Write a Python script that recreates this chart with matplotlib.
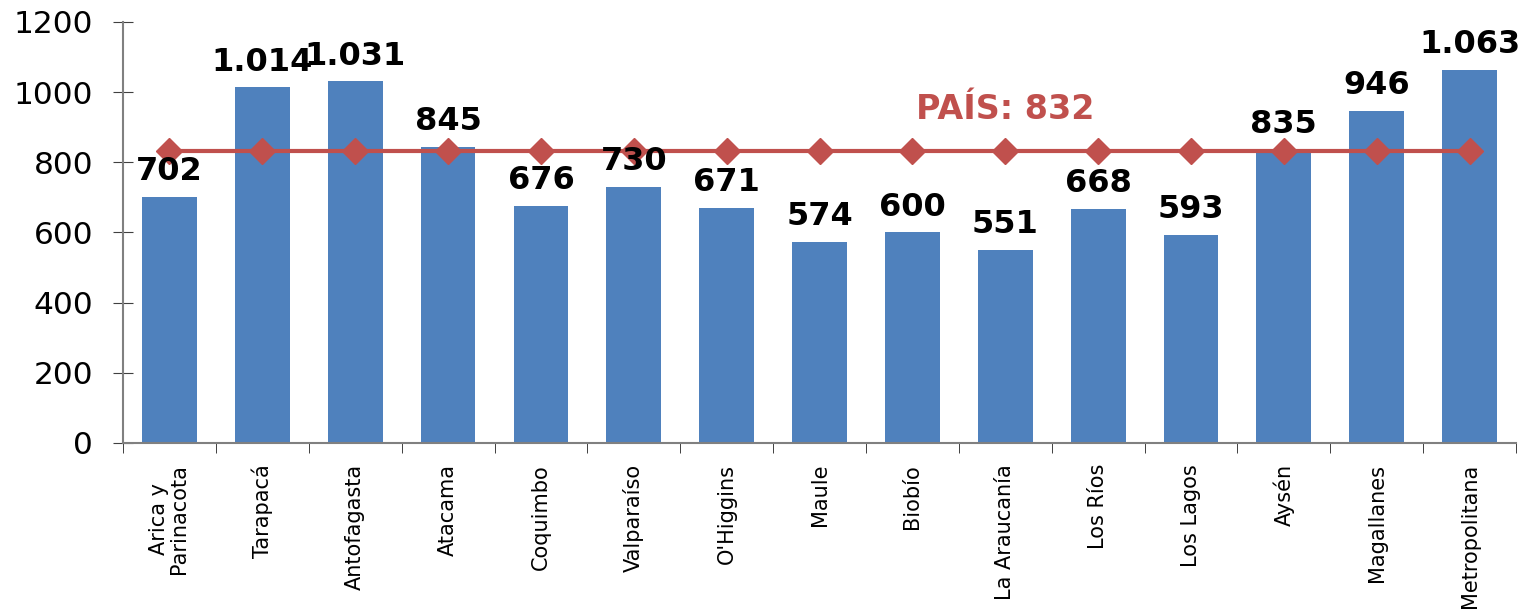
import matplotlib.pyplot as plt

# Regions and values
regions = ['Arica y\nParinacota', 'Tarapacá', 'Antofagasta', 'Atacama', 'Coquimbo',
           'Valparaíso', "O'Higgins", 'Maule', 'Biobío', 'La Araucanía',
           'Los Ríos', 'Los Lagos', 'Aysén', 'Magallanes', 'Metropolitana']
values = [702, 1014, 1031, 845, 676, 730, 671, 574, 600, 551, 668, 593, 835, 946, 1063]
pais = 832

fig = plt.figure(figsize=(15.23, 6.11), dpi=100)
ax = fig.add_axes([0.0808, 0.275, 0.9146, 0.689])

x = list(range(len(regions)))
ax.bar(x, values, width=0.59, color='#4F81BD', zorder=2)
ax.plot(x, [pais] * len(x), color='#C0504D', linewidth=3, marker='D',
        markersize=13, zorder=3)

# Value labels with dot as thousands separator
for xi, v in zip(x, values):
    label = f'{v:,}'.replace(',', '.')
    ax.annotate(label, (xi, v), xytext=(0, 7), textcoords='offset points',
                ha='center', va='bottom', fontsize=23, fontweight='bold')

ax.text(9, 950, f'PAÍS: {pais}', color='#C0504D', fontsize=24,
        fontweight='bold', ha='center', va='center')

ax.set_xlim(-0.5, len(regions) - 0.5)
ax.set_ylim(0, 1200)
ax.set_yticks(range(0, 1201, 200))
ax.tick_params(axis='y', labelsize=22.5, direction='inout', length=15, color='#404040', pad=14)

ax.set_xticks(x)
ax.set_xticklabels(regions, rotation=90, fontsize=15, linespacing=1.0)
ax.tick_params(axis='x', which='major', length=0, pad=15)
ax.set_xticks([i - 0.5 for i in range(len(regions) + 1)], minor=True)
ax.tick_params(axis='x', which='minor', length=7, direction='out', color='#202020')

for side in ['top', 'right']:
    ax.spines[side].set_visible(False)
for side in ['left', 'bottom']:
    ax.spines[side].set_color('#808080')
    ax.spines[side].set_linewidth(1.5)

plt.savefig('out.png', dpi=100)
